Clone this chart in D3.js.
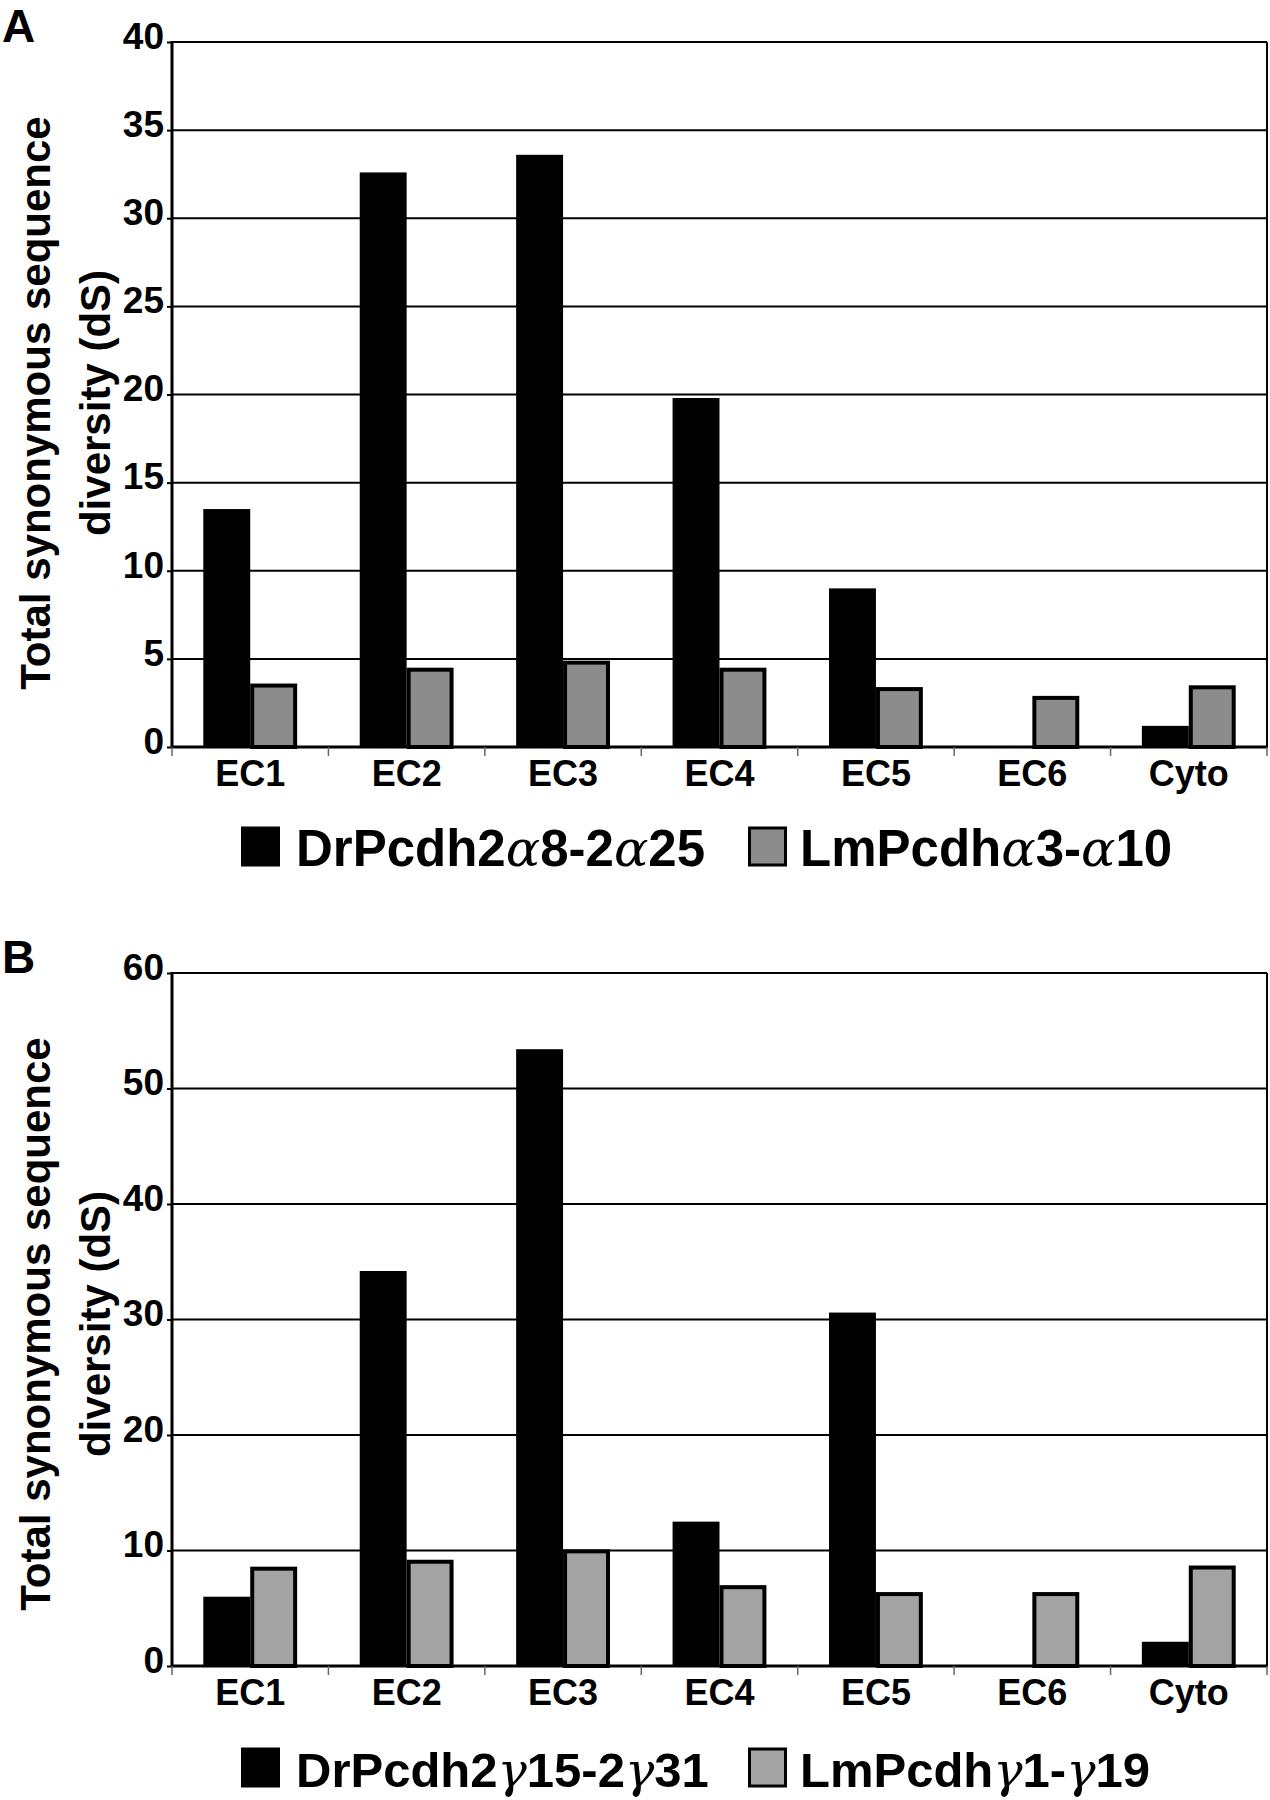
<!DOCTYPE html>
<html>
<head>
<meta charset="utf-8">
<script src="https://cdn.jsdelivr.net/npm/d3@7"></script>
<style>
  html, body { margin: 0; padding: 0; background: #fff; }
  svg { display: block; font-family: "Liberation Sans", Arial, sans-serif; }
</style>
</head>
<body>
<svg id="chart" width="1270" height="1800"></svg>
<script>
// ---------- data ----------
const categories = ["EC1", "EC2", "EC3", "EC4", "EC5", "EC6", "Cyto"];

// Panel A
const seriesA = ["DrPcdh2α8-2α25", "LmPcdhα3-α10"];
const drAlpha = [13.5, 32.6, 33.6, 19.8, 9.0, 0, 1.2];
const lmAlpha = [3.6, 4.5, 4.9, 4.5, 3.4, 2.9, 3.5];
const ticksA = [0, 5, 10, 15, 20, 25, 30, 35, 40];

// Panel B
const seriesB = ["DrPcdh2γ15-2γ31", "LmPcdhγ1-γ19"];
const drGamma = [6.0, 34.2, 53.4, 12.5, 30.6, 0, 2.1];
const lmGamma = [8.6, 9.2, 10.1, 7.0, 6.4, 6.4, 8.7];
const ticksB = [0, 10, 20, 30, 40, 50, 60];

const yTitle = ["Total synonymous sequence", "diversity (dS)"];

// ---------- drawing ----------
const svg = d3.select("#chart");

function drawPanel(p) {
  const g = svg.append("g");
  const left = 172, right = 1267;
  const y = d3.scaleLinear().domain([0, d3.max(p.ticks)]).range([p.bottom, p.top]);
  const x0 = d3.scaleBand().domain(categories).range([left, right]).padding(0);
  const x1 = d3.scaleBand().domain(p.series).range([0, x0.bandwidth()])
    .paddingInner(0).paddingOuter(0.667);

  // gridlines
  g.append("g").selectAll("line").data(p.ticks.filter(t => t > 0)).join("line")
    .attr("x1", left).attr("x2", right)
    .attr("y1", d => y(d)).attr("y2", d => y(d))
    .attr("stroke", "#000").attr("stroke-width", 2);

  // right border
  g.append("line").attr("x1", right).attr("x2", right)
    .attr("y1", y(d3.max(p.ticks))).attr("y2", y(0))
    .attr("stroke", "#000").attr("stroke-width", 2);

  // y axis
  const ya = g.append("g").attr("transform", `translate(${left},0)`)
    .call(d3.axisLeft(y).tickValues(p.ticks).tickSize(5).tickPadding(3).tickFormat(d3.format("d")));
  ya.select(".domain").remove();
  ya.selectAll(".tick line").attr("stroke", "#000").attr("stroke-width", 2);
  ya.selectAll(".tick text")
    .attr("font-family", "Liberation Sans, Arial, sans-serif")
    .attr("font-size", 37).attr("font-weight", "bold").attr("fill", "#000")
    .attr("dy", "0.17em");

  // bars
  const rows = categories.map((c, i) => ({ cat: c, vals: [p.a[i], p.b[i]] }));
  const grp = g.append("g").selectAll("g").data(rows).join("g")
    .attr("transform", d => `translate(${x0(d.cat)},0)`);
  // black series
  grp.append("rect")
    .attr("x", x1(p.series[0]))
    .attr("y", d => y(d.vals[0]))
    .attr("width", x1.bandwidth())
    .attr("height", d => y(0) - y(d.vals[0]))
    .attr("fill", "#000");
  // grey series with black border
  const sw = 4;
  grp.append("rect")
    .attr("x", x1(p.series[1]) + sw / 2)
    .attr("y", d => y(d.vals[1]) + sw / 2)
    .attr("width", x1.bandwidth() - sw)
    .attr("height", d => Math.max(0, y(0) - y(d.vals[1]) - sw / 2))
    .attr("fill", p.grey).attr("stroke", "#000").attr("stroke-width", sw);

  // x axis line
  g.append("line").attr("x1", left - 1).attr("x2", right + 1)
    .attr("y1", y(0)).attr("y2", y(0))
    .attr("stroke", "#000").attr("stroke-width", 3);
  // y axis line
  g.append("line").attr("x1", left).attr("x2", left)
    .attr("y1", y(d3.max(p.ticks)) - 1).attr("y2", y(0) + 1)
    .attr("stroke", "#000").attr("stroke-width", 3);

  // x ticks at band boundaries
  const bounds = categories.map(c => x0(c)).concat([right]);
  g.append("g").selectAll("line").data(bounds).join("line")
    .attr("x1", d => d).attr("x2", d => d)
    .attr("y1", y(0)).attr("y2", y(0) + 9)
    .attr("stroke", "#666").attr("stroke-width", 1.5);

  // x labels
  g.append("g").selectAll("text").data(categories).join("text")
    .attr("x", d => x0(d) + x0.bandwidth() / 2)
    .attr("y", p.xLabelY)
    .attr("text-anchor", "middle")
    .attr("font-size", 36).attr("font-weight", "bold")
    .text(d => d);

  // y title
  const t = g.append("text")
    .attr("transform", `translate(0,${p.titleY}) rotate(-90)`)
    .attr("text-anchor", "middle")
    .attr("font-size", 42).attr("font-weight", "bold");
  t.append("tspan").attr("x", 0).attr("y", 50).text(yTitle[0]);
  t.append("tspan").attr("x", 0).attr("y", 110).text(yTitle[1]);

  // panel letter
  g.append("text").attr("x", 2).attr("y", p.letterY)
    .attr("font-size", 46).attr("font-weight", "bold").text(p.letter);

  // legend
  const leg = g.append("g");
  const items = [
    { x: 241, fill: "#000", label: p.series[0], tx: 296 },
    { x: 748, fill: p.grey, label: p.series[1], tx: 800 }
  ];
  items.forEach(it => {
    leg.append("rect").attr("x", it.x + 1.5).attr("y", p.legendY - 38)
      .attr("width", 36).attr("height", 37)
      .attr("fill", it.fill).attr("stroke", "#000").attr("stroke-width", 3);
    const txt = leg.append("text").attr("x", it.tx).attr("y", p.legendY)
      .attr("font-size", p.legendSize).attr("font-weight", "bold");
    // split Greek letters into lighter tspans
    const parts = it.label.split(/([αγ])/);
    parts.forEach(s => {
      if (!s) return;
      if (s === "α" || s === "γ") {
        txt.append("tspan").attr("font-family", "DejaVu Serif, serif")
          .attr("font-weight", "normal").attr("font-style", "italic").text(s);
      } else {
        txt.append("tspan").text(s);
      }
    });
  });
}

drawPanel({
  letter: "A", letterY: 42,
  top: 42, bottom: 747,
  ticks: ticksA, series: seriesA, a: drAlpha, b: lmAlpha,
  grey: "#8c8c8c", xLabelY: 786, legendY: 866, titleY: 403, legendSize: 51
});

drawPanel({
  letter: "B", letterY: 973,
  top: 973, bottom: 1666,
  ticks: ticksB, series: seriesB, a: drGamma, b: lmGamma,
  grey: "#a3a3a3", xLabelY: 1705, legendY: 1787, titleY: 1324, legendSize: 49
});
</script>
</body>
</html>
